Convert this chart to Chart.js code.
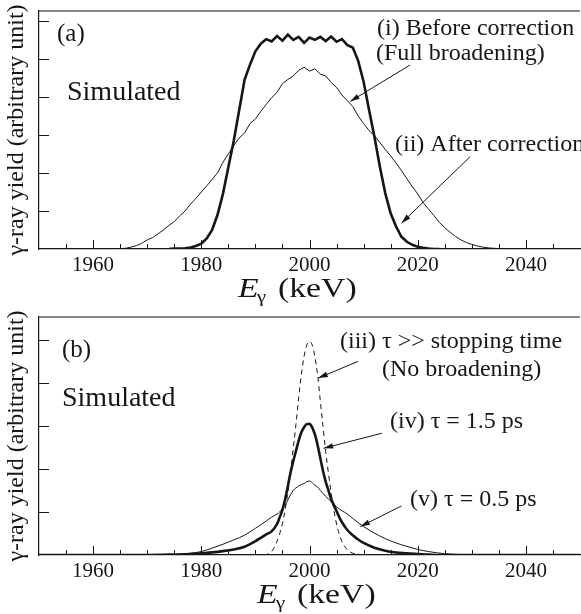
<!DOCTYPE html>
<html>
<head>
<meta charset="utf-8">
<script src="https://cdn.jsdelivr.net/npm/chart.js@4.4.1/dist/chart.umd.min.js"></script>
<style>
  html, body { margin: 0; padding: 0; background: #fff; }
  .panel { position: absolute; left: 0; width: 581px; height: 307px; }
  #panelA { top: 0; }
  #panelB { top: 307px; }
</style>
</head>
<body>
<div class="panel" id="panelA"><canvas id="chartA"></canvas></div>
<div class="panel" id="panelB"><canvas id="chartB"></canvas></div>
<script>
// shared axis setup (keV)
const xMin = 1950, xMax = 2050;
const xTicks = [1960, 1980, 2000, 2020, 2040];
const minorStep = 5;

// (a) 1 keV bins
const energyA = [
  1950, 1951, 1952, 1953, 1954, 1955, 1956, 1957, 1958, 1959,
  1960, 1961, 1962, 1963, 1964, 1965, 1966, 1967, 1968, 1969,
  1970, 1971, 1972, 1973, 1974, 1975, 1976, 1977, 1978, 1979,
  1980, 1981, 1982, 1983, 1984, 1985, 1986, 1987, 1988, 1989,
  1990, 1991, 1992, 1993, 1994, 1995, 1996, 1997, 1998, 1999,
  2000, 2001, 2002, 2003, 2004, 2005, 2006, 2007, 2008, 2009,
  2010, 2011, 2012, 2013, 2014, 2015, 2016, 2017, 2018, 2019,
  2020, 2021, 2022, 2023, 2024, 2025, 2026, 2027, 2028, 2029,
  2030, 2031, 2032, 2033, 2034, 2035, 2036, 2037, 2038, 2039,
  2040, 2041, 2042, 2043, 2044, 2045, 2046, 2047, 2048, 2049,
  2050
];
// (i) before correction, full broadening
const beforeCorr = [
  0, 0, 0, 0, 0, 0, 0, 0, 0, 0,
  0, 0, 0, 0, 0, 0.01, 0.02, 0.05, 0.09, 0.15,
  0.24, 0.30, 0.40, 0.50, 0.62, 0.72, 0.87, 1.00, 1.18, 1.33,
  1.50, 1.66, 1.83, 2.00, 2.28, 2.50, 2.72, 2.92, 3.05, 3.30,
  3.42, 3.62, 3.80, 3.98, 4.12, 4.35, 4.46, 4.55, 4.70, 4.78,
  4.68, 4.74, 4.60, 4.55, 4.38, 4.25, 4.05, 3.90, 3.75, 3.50,
  3.30, 3.12, 2.98, 2.80, 2.62, 2.45, 2.26, 2.06, 1.85, 1.64,
  1.45, 1.22, 1.05, 0.88, 0.70, 0.56, 0.44, 0.33, 0.24, 0.17,
  0.12, 0.08, 0.05, 0.03, 0.02, 0.01, 0, 0, 0, 0,
  0, 0, 0, 0, 0, 0, 0, 0, 0, 0,
  0
];
// (ii) after correction
const afterCorr = [
  null, null, null, null, null, null, null, null, null, null,
  null, null, null, null, null, null, null, null, null, null,
  null, null, null, null, 0, 0.01, 0.01, 0.02, 0.04, 0.08,
  0.14, 0.28, 0.50, 0.90, 1.45, 2.15, 2.85, 3.65, 4.45, 4.85,
  5.20, 5.40, 5.52, 5.46, 5.60, 5.48, 5.64, 5.50, 5.58, 5.42,
  5.56, 5.50, 5.58, 5.47, 5.59, 5.45, 5.52, 5.36, 5.30, 4.95,
  4.40, 3.66, 2.95, 2.17, 1.47, 0.94, 0.59, 0.32, 0.19, 0.11,
  0.06, 0.03, 0.01, 0, 0, null, null, null, null, null,
  null, null, null, null, null, null, null, null, null, null,
  null, null, null, null, null, null, null, null, null, null,
  null
];

// (b) finer sampling around the peak
const energyB = [
  1950, 1970, 1975, 1978, 1980, 1982, 1984, 1986, 1988, 1990,
  1991, 1992, 1993, 1994, 1994.5, 1995, 1995.5, 1996, 1996.5, 1997,
  1997.5, 1998, 1998.5, 1999, 1999.5, 2000, 2000.5, 2001, 2001.5, 2002,
  2002.5, 2003, 2003.5, 2004, 2004.5, 2005, 2005.5, 2006, 2007, 2008,
  2009, 2010, 2012, 2014, 2016, 2018, 2020, 2022, 2025, 2028,
  2032, 2050
];
// (iii) tau >> stopping time
const tauLong = [
  0, 0, 0, 0, 0, 0, 0, 0, 0, 0,
  0, 0.01, 0.08, 0.32, 0.50, 0.73, 1.05, 1.45, 1.94, 2.48,
  3.04, 3.65, 4.20, 4.62, 4.88, 4.96, 4.88, 4.60, 4.18, 3.58,
  2.98, 2.40, 1.90, 1.45, 1.04, 0.72, 0.48, 0.31, 0.12, 0.04,
  0.01, 0, 0, 0, 0, 0, 0, 0, 0, 0,
  0, 0
];
// (iv) tau = 1.5 ps
const tau15 = [
  0, 0, 0.01, 0.02, 0.04, 0.06, 0.09, 0.13, 0.19, 0.32,
  0.40, 0.48, 0.55, 0.72, 0.88, 1.05, 1.30, 1.60, 1.92, 2.18,
  2.42, 2.66, 2.85, 2.97, 3.04, 3.05, 2.96, 2.80, 2.55, 2.25,
  1.95, 1.70, 1.50, 1.30, 1.16, 1.02, 0.88, 0.76, 0.58, 0.46,
  0.36, 0.28, 0.17, 0.10, 0.06, 0.04, 0.02, 0.01, 0, 0,
  0, 0
];
// (v) tau = 0.5 ps
const tau05 = [
  0, 0, 0.01, 0.04, 0.08, 0.16, 0.25, 0.35, 0.46, 0.62,
  0.70, 0.79, 0.88, 0.95, 1.00, 1.08, 1.16, 1.28, 1.40, 1.50,
  1.56, 1.60, 1.64, 1.66, 1.70, 1.72, 1.68, 1.62, 1.58, 1.50,
  1.43, 1.36, 1.30, 1.24, 1.18, 1.12, 1.07, 1.03, 0.95, 0.85,
  0.75, 0.66, 0.51, 0.38, 0.28, 0.20, 0.13, 0.08, 0.03, 0.01,
  0, 0
];

const ink = '#161616';
const serif = '"Liberation Serif", "Times New Roman", serif';

function toPoints(xs, ys) {
  return xs.map((x, i) => ({ x: x, y: ys[i] }));
}

function drawArrow(ctx, x0, y0, x1, y1) {
  const ang = Math.atan2(y1 - y0, x1 - x0);
  const len = 10, spread = 0.28;
  ctx.beginPath();
  ctx.moveTo(x0, y0);
  ctx.lineTo(x1, y1);
  ctx.stroke();
  ctx.beginPath();
  ctx.moveTo(x1, y1);
  ctx.lineTo(x1 - len * Math.cos(ang - spread), y1 - len * Math.sin(ang - spread));
  ctx.lineTo(x1 - len * Math.cos(ang + spread), y1 - len * Math.sin(ang + spread));
  ctx.closePath();
  ctx.fill();
}

// frame top line, inward ticks, labels, arrows and axis titles
const decor = {
  id: 'decor',
  afterDraw(chart, args, opts) {
    const { ctx, chartArea: a, scales: { x, y } } = chart;
    ctx.save();
    ctx.strokeStyle = ink;
    ctx.fillStyle = ink;
    ctx.lineWidth = 1.2;

    ctx.beginPath();
    ctx.moveTo(a.left, a.top);
    ctx.lineTo(a.right, a.top);
    ctx.stroke();

    ctx.lineWidth = 1;
    for (let v = xMin + minorStep; v < xMax; v += minorStep) {
      const px = Math.round(x.getPixelForValue(v)) + 0.5;
      const len = xTicks.includes(v) ? 9 : 5;
      ctx.beginPath();
      ctx.moveTo(px, a.bottom);
      ctx.lineTo(px, a.bottom - len);
      ctx.stroke();
    }
    for (const v of opts.yTicks) {
      const py = Math.round(y.getPixelForValue(v)) + 0.5;
      ctx.beginPath();
      ctx.moveTo(a.left, py);
      ctx.lineTo(a.left + 10, py);
      ctx.stroke();
    }

    ctx.textBaseline = 'alphabetic';
    ctx.textAlign = 'left';
    for (const t of opts.labels) {
      ctx.font = t.size + 'px ' + serif;
      ctx.fillText(t.text, t.x, t.y);
    }

    ctx.lineWidth = 1;
    for (const ar of opts.arrows) {
      drawArrow(ctx,
        x.getPixelForValue(ar.from[0]), y.getPixelForValue(ar.from[1]),
        x.getPixelForValue(ar.to[0]), y.getPixelForValue(ar.to[1]));
    }

    // y title
    ctx.save();
    ctx.translate(17, (a.top + a.bottom) / 2);
    ctx.rotate(-Math.PI / 2);
    ctx.textAlign = 'center';
    ctx.textBaseline = 'middle';
    ctx.font = '24px ' + serif;
    ctx.fillText('γ-ray yield (arbitrary unit)', 0, 0);
    ctx.restore();

    // x title: E_γ (keV)
    const tx = opts.xTitle.x, ty = opts.xTitle.y;
    ctx.save();
    ctx.translate(tx, ty);
    ctx.scale(1.25, 1);
    ctx.font = 'italic 27px ' + serif;
    ctx.fillText('E', 0, 0);
    ctx.font = '17px ' + serif;
    ctx.fillText('γ', 15, 5);
    ctx.font = '27px ' + serif;
    ctx.fillText('(keV)', 32, 0);
    ctx.restore();

    ctx.restore();
  }
};

function makeChart(id, datasets, yMax, topPad, xHeight, decorOpts) {
  return new Chart(document.getElementById(id), {
    type: 'line',
    data: { datasets: datasets },
    options: {
      responsive: true,
      maintainAspectRatio: false,
      animation: false,
      events: [],
      layout: { padding: { left: 0, right: 1, top: topPad, bottom: 0 } },
      elements: { point: { radius: 0 } },
      plugins: { legend: { display: false }, tooltip: { enabled: false }, decor: decorOpts },
      scales: {
        x: {
          type: 'linear',
          min: xMin,
          max: xMax,
          afterBuildTicks: (s) => { s.ticks = xTicks.map(v => ({ value: v })); },
          afterFit: (s) => { s.height = xHeight; },
          grid: { drawOnChartArea: false, drawTicks: false },
          border: { display: true, color: ink, width: 1.2 },
          ticks: {
            padding: 4,
            color: ink,
            font: { family: serif, size: 21 },
            callback: (v) => String(v)
          }
        },
        y: {
          min: 0,
          max: yMax,
          afterFit: (s) => { s.width = 39; },
          grid: { drawOnChartArea: false, drawTicks: false },
          border: { display: true, color: ink, width: 1.2 },
          ticks: { display: false }
        }
      }
    },
    plugins: [decor]
  });
}

makeChart('chartA', [
  { data: toPoints(energyA, beforeCorr), borderColor: ink, borderWidth: 1, tension: 0 },
  { data: toPoints(energyA, afterCorr), borderColor: ink, borderWidth: 2.6, tension: 0, spanGaps: false }
], 6.26, 11, 58, {
  yTicks: [1, 2, 3, 4, 5, 6],
  xTitle: { x: 238, y: 297 },
  labels: [
    { text: '(a)', size: 25, x: 57, y: 41 },
    { text: 'Simulated', size: 28, x: 67, y: 100 },
    { text: '(i) Before correction', size: 24, x: 377, y: 35 },
    { text: '(Full broadening)', size: 24, x: 376, y: 60 },
    { text: '(ii) After correction', size: 24, x: 395, y: 151 }
  ],
  arrows: [
    { from: [2018.6, 4.84], to: [2007.5, 3.88] },
    { from: [2029.7, 2.43], to: [2017.0, 0.68] }
  ]
});

makeChart('chartB', [
  { data: toPoints(energyB, tauLong), borderColor: ink, borderWidth: 1, borderDash: [5, 4], cubicInterpolationMode: 'monotone' },
  { data: toPoints(energyB, tau15), borderColor: ink, borderWidth: 2.6, cubicInterpolationMode: 'monotone' },
  { data: toPoints(energyB, tau05), borderColor: ink, borderWidth: 1, cubicInterpolationMode: 'monotone' }
], 5.53, 10, 59, {
  yTicks: [1, 2, 3, 4, 5],
  xTitle: { x: 257, y: 296 },
  labels: [
    { text: '(b)', size: 25, x: 62, y: 50 },
    { text: 'Simulated', size: 28, x: 62, y: 99 },
    { text: '(iii) τ >> stopping time', size: 24, x: 340, y: 41 },
    { text: '(No broadening)', size: 24, x: 382, y: 69 },
    { text: '(iv) τ = 1.5 ps', size: 24, x: 390, y: 121 },
    { text: '(v) τ = 0.5 ps', size: 24, x: 410, y: 199 }
  ],
  arrows: [
    { from: [2009.0, 4.50], to: [2001.6, 4.11] },
    { from: [2013.4, 2.83], to: [2002.6, 2.48] },
    { from: [2017.0, 1.14], to: [2009.4, 0.66] }
  ]
});
</script>
</body>
</html>
